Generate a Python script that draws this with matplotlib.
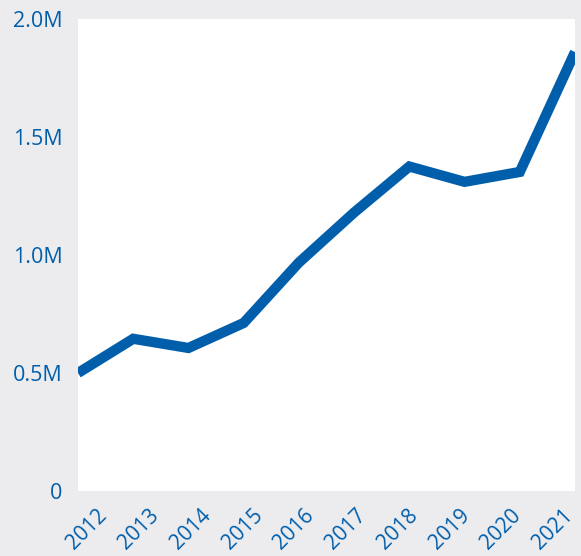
import matplotlib.pyplot as plt
from matplotlib.ticker import FuncFormatter

years = [2012, 2013, 2014, 2015, 2016, 2017, 2018, 2019, 2020, 2021]
values = [0.50e6, 0.645e6, 0.606e6, 0.712e6, 0.968e6, 1.18e6, 1.375e6, 1.31e6, 1.352e6, 1.86e6]
y_ticks = [0, 0.5e6, 1.0e6, 1.5e6, 2.0e6]

BLUE = "#005eab"
BG = "#ececef"

plt.rcParams['font.family'] = ['Open Sans', 'DejaVu Sans']

fig = plt.figure(figsize=(5.81, 5.56), dpi=100, facecolor=BG)
ax = fig.add_axes([78 / 581, 65 / 556, 497 / 581, 472 / 556])
ax.set_facecolor("white")

ax.plot(years, values, color=BLUE, linewidth=7.4, solid_capstyle="butt",
        solid_joinstyle="miter")

ax.set_xlim(years[0], years[-1])
ax.set_ylim(0, 2.0e6)
ax.set_yticks(y_ticks)
ax.yaxis.set_major_formatter(FuncFormatter(lambda v, p: "0" if v == 0 else f"{v / 1e6:.1f}M"))

# the year labels sit on a slightly tighter spacing than the data points
label_pos = [years[0] + 0.17 + (y - years[0]) * 0.937 for y in years]
ax.set_xticks(label_pos)
ax.set_xticklabels([str(y) for y in years], rotation=45, ha="center")

ax.tick_params(axis="both", length=0, colors=BLUE, labelsize=15.5)
ax.tick_params(axis="y", pad=11)
ax.tick_params(axis="x", pad=10, labelsize=15)
for s in ax.spines.values():
    s.set_visible(False)

fig.savefig("out.png", dpi=100, facecolor=BG)
